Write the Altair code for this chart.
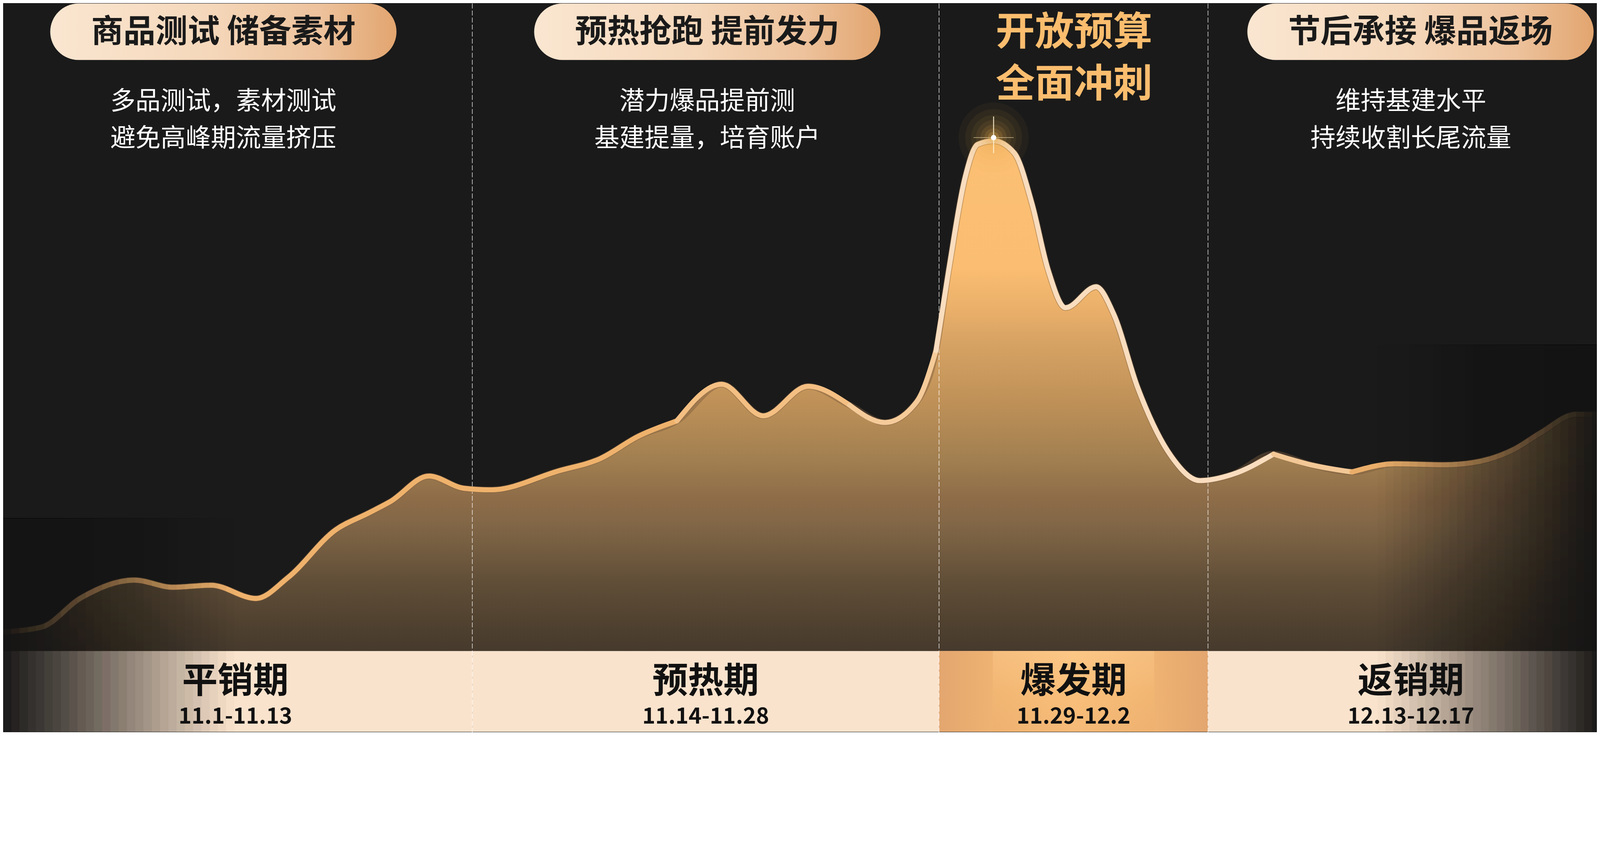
import altair as alt
import pandas as pd

# ---------------- data ----------------
timeline = [0, 2.6, 5.0, 8.4, 10.8, 13.2, 16.0, 18.0, 21.0, 23.0, 24.4, 26.8, 29.0, 30.7,
            34.9, 37.5, 39.9, 42.3, 45.1, 47.7, 50.5, 53.1, 55.3, 57.3, 58.5, 59.3, 60.3,
            61.1, 62.1, 63.4, 64.5, 65.5, 66.6, 68.5, 69.6, 71.1, 73.2, 75.0, 77.0, 79.6,
            81.8, 84.5, 87.2, 90.3, 92.0, 94.6, 96.3, 98.5, 100]
traffic = [3.7, 4.7, 10.3, 13.9, 12.5, 12.9, 10.3, 14.4, 23.8, 27.0, 29.3, 34.3, 31.9, 31.6,
           35.3, 37.7, 42.1, 45.1, 52.3, 46.1, 51.9, 48.2, 44.8, 48.9, 58.9, 74.8, 92.6,
           99.3, 100, 97.6, 87.7, 74.8, 67.3, 71.4, 66.1, 51.7, 38.2, 33.4, 34.6, 38.6,
           36.6, 35.1, 36.7, 36.5, 36.9, 39.5, 42.8, 46.4, 46.4]

phase_names = ["平销期", "预热期", "爆发期", "返销期"]
phase_dates = ["11.1-11.13", "11.14-11.28", "11.29-12.2", "12.13-12.17"]
phase_start = [0, 29.52, 58.69, 75.50]
phase_end = [29.52, 58.69, 75.50, 100]
pill_titles = ["商品测试 储备素材", "预热抢跑 提前发力", "", "节后承接 爆品返场"]
note_line1 = ["多品测试，素材测试", "潜力爆品提前测", "", "维持基建水平"]
note_line2 = ["避免高峰期流量挤压", "基建提量，培育账户", "", "持续收割长尾流量"]
burst_line1 = "开放预算"
burst_line2 = "全面冲刺"
highlight_phase = 2

# ---------------- layout / style ----------------
K = 4779 / 4096            # picture pixels per page pixel
W, H = 4080, 1866          # page pixels


def L(p):                  # picture-pixel length -> page pixels
    return p / K


def PY(y):                 # picture y -> chart y
    return y / K - 8


PX_PER_U = 47.79
PX_PER_V = 15.25
BASE_Y = 1945
X_MIN = 8 * K / PX_PER_U
X_MAX = (W + 8) * K / PX_PER_U
Y_MAX = (BASE_Y - 8 * K) / PX_PER_V
Y_MIN = (BASE_Y - (H + 8) * K) / PX_PER_V
XS = alt.Scale(domain=[X_MIN, X_MAX], nice=False, zero=False)
YS = alt.Scale(domain=[Y_MIN, Y_MAX], nice=False, zero=False)
FONT = "Noto Sans CJK SC"
BG = "#1a1a1a"
top_nudge = [-0.8, 0.1, 0.03, 1.03]
note_nudge = [-0.8, 0.1, 0.0, 0.43]
bottom_nudge = [-0.05, 0.0, 0.0, 0.43]
PILL_HALF = 10.82
seg_spec = [(0, 17, "#EFB26C"), (17, 21, "#F4BF82"), (21, 24, "#F6CB9A"), (24, 39, "#F9DDBE"),
            (39, 41, "#F3C896"), (41, 48, "#EAAE6A")]


def lin(stops, horizontal=False):
    return alt.LinearGradient(
        gradient="linear",
        stops=[alt.GradientStop(color=c, offset=o) for o, c in stops],
        x1=0, y1=0, x2=1 if horizontal else 0, y2=0 if horizontal else 1)


def X(f):
    return alt.X(f, type="quantitative", scale=XS, axis=None)


def Y(f):
    return alt.Y(f, type="quantitative", scale=YS, axis=None)


curve = pd.DataFrame({"t": timeline, "v": traffic})
curve["base"] = 0.0

seg_rows = []
for k, (i0, i1, _) in enumerate(seg_spec):
    for i in range(i0, i1 + 1):
        seg_rows.append({"t": timeline[i], "v": traffic[i], "seg": k})
segs = pd.DataFrame(seg_rows)

mid = [(a + b) / 2 for a, b in zip(phase_start, phase_end)]
phases = pd.DataFrame({
    "name": phase_names, "date": phase_dates,
    "start": [max(s, X_MIN) for s in phase_start], "stop": [min(e, X_MAX) for e in phase_end],
    "top_c": [m + n for m, n in zip(mid, top_nudge)],
    "note_c": [m + n for m, n in zip(mid, note_nudge)],
    "bot_c": [m + n for m, n in zip(mid, bottom_nudge)],
    "pill": pill_titles, "n1": note_line1, "n2": note_line2,
})
phases["p0"] = phases["top_c"] - PILL_HALF
phases["p1"] = phases["top_c"] + PILL_HALF
phases["b0"] = 0.0
phases["b1"] = Y_MIN
pills = phases[phases["pill"] != ""].reset_index(drop=True)
hl = phases.iloc[[highlight_phase]].reset_index(drop=True)
hl["c0"] = hl["start"] + (hl["stop"] - hl["start"]) * 0.2
hl["c1"] = hl["stop"] - (hl["stop"] - hl["start"]) * 0.2
bounds = pd.DataFrame({"b": phase_start[1:]})

area_fill = lin([(0, "#FCC074"), (0.25, "#FABD71"), (0.34, "#E8AE69"), (0.38, "#DAA565"),
                 (0.51, "#BF9158"), (0.63, "#A07E50"), (0.70, "#8E6C48"), (0.75, "#826747"),
                 (0.87, "#5F4D37"), (0.94, "#514230"), (1, "#463A2D")])

area = alt.Chart(curve).mark_area(interpolate="monotone", fill=area_fill, clip=True).encode(
    x=X("t"), y=Y("v"), y2=alt.Y2("base"))

band = alt.Chart(phases).mark_rect(color="#FAE3CD").encode(
    x=X("start"), x2=alt.X2("stop"), y=Y("b0"), y2=alt.Y2("b1"))

hl_base = alt.Chart(hl).mark_rect(fill=lin([(0, "#E3A66F"), (0.22, "#F0B472"), (0.5, "#FCC47F"),
                                            (0.78, "#F0B472"), (1, "#E3A66F")], horizontal=True)).encode(
    x=X("start"), x2=alt.X2("stop"), y=Y("b0"), y2=alt.Y2("b1"))
hl_top = alt.Chart(hl).mark_rect(fill=lin([(0, "#FDCB8E"), (0.5, "#F6BA75"), (1, "#EDAE6E")]),
                                 opacity=0.45).encode(
    x=X("c0"), x2=alt.X2("c1"), y=Y("b0"), y2=alt.Y2("b1"))

rules = alt.Chart(bounds).mark_rule(color="#ffffff", strokeWidth=L(2), strokeDash=[L(15), L(6)],
                                    opacity=0.75).encode(
    x=X("b"), y=alt.value(0), y2=alt.value(H))

line_shadow = alt.Chart(curve).mark_line(interpolate="monotone", color="#7a5c3e", strokeWidth=L(19),
                                          opacity=0.45, clip=True).encode(x=X("t"), y=Y("v"))
line = alt.Chart(segs).mark_line(interpolate="monotone", strokeWidth=L(15), strokeCap="round",
                                 strokeJoin="round", clip=True).encode(
    x=X("t"), y=Y("v"),
    color=alt.Color("seg:N", scale=alt.Scale(domain=list(range(len(seg_spec))),
                                             range=[c for _, _, c in seg_spec]), legend=None))

# edge fades: nested rects whose stacked opacity falls off linearly
N = 28
LW, RW = 14.65, 13.9
targets = [0.97 * (1 - (k + 0.5) / N) for k in range(N)]
alphas = []
for k in range(N):
    nxt = targets[k + 1] if k + 1 < N else 0.0
    alphas.append(1 - (1 - targets[k]) / (1 - nxt))
rows = []
for k in range(N):
    rows.append({"a": X_MIN, "b": X_MIN + (LW - X_MIN) * (k + 1) / N, "o": alphas[k], "y0": 26.0})
    rows.append({"a": 100 - RW * (k + 1) / N, "b": X_MAX, "o": alphas[k] * 0.98, "y0": 60.0})
fade = pd.DataFrame(rows)
fade["y1"] = Y_MIN
fades = alt.Chart(fade).mark_rect(color=BG).encode(
    x=X("a"), x2=alt.X2("b"), y=Y("y0"), y2=alt.Y2("y1"),
    opacity=alt.Opacity("o:Q", scale=None, legend=None))

peak = curve.loc[[curve["v"].idxmax()]].reset_index(drop=True)
glows = []
for s, op in [(210, 0.05), (170, 0.06), (135, 0.07), (105, 0.09), (78, 0.12), (55, 0.16), (34, 0.25)]:
    glows.append(alt.Chart(peak).mark_point(shape="circle", filled=True, size=L(s) ** 2, strokeWidth=0,
                                            color="#E8AA4A", opacity=op, yOffset=L(-10)).encode(
        x=X("t"), y=Y("v")))
spark_v = alt.Chart(peak).mark_tick(orient="vertical", size=L(110), thickness=L(3), color="#FFF1CF",
                                    opacity=0.85, yOffset=L(-18)).encode(x=X("t"), y=Y("v"))
spark_h = alt.Chart(peak).mark_tick(orient="horizontal", size=L(120), thickness=L(2), color="#FFE7B8",
                                    opacity=0.6, yOffset=L(-10)).encode(x=X("t"), y=Y("v"))
dot = alt.Chart(peak).mark_point(shape="circle", filled=True, size=L(16) ** 2, color="#ffffff",
                                 opacity=1, strokeWidth=0, yOffset=L(-10)).encode(x=X("t"), y=Y("v"))

pill_rect = alt.Chart(pills).mark_rect(cornerRadius=L(85), fill=lin(
    [(0, "#FAE6D1"), (0.45, "#F5D8BB"), (0.78, "#EDC29C"), (1, "#E2A56F")], horizontal=True)).encode(
    x=X("p0"), x2=alt.X2("p1"), y=alt.value(0), y2=alt.value(PY(178)))
pill_text = alt.Chart(pills).mark_text(font=FONT, fontSize=L(96), fontWeight="bold", color="#1a1a1a",
                                       baseline="middle", align="center").encode(
    x=X("top_c"), y=alt.value(PY(96)), text=alt.Text("pill:N"))
note1 = alt.Chart(pills).mark_text(font=FONT, fontSize=L(75), color="#ffffff", baseline="middle",
                                   align="center").encode(x=X("note_c"), y=alt.value(PY(303)),
                                                          text=alt.Text("n1:N"))
note2 = alt.Chart(pills).mark_text(font=FONT, fontSize=L(75), color="#ffffff", baseline="middle",
                                   align="center").encode(x=X("note_c"), y=alt.value(PY(414)),
                                                          text=alt.Text("n2:N"))
burst = hl.assign(l1=burst_line1, l2=burst_line2)
burst1 = alt.Chart(burst).mark_text(font=FONT, fontSize=L(117), fontWeight="bold", color="#FBBD6E",
                                    baseline="middle", align="center").encode(
    x=X("top_c"), y=alt.value(PY(98)), text=alt.Text("l1:N"))
burst2 = alt.Chart(burst).mark_text(font=FONT, fontSize=L(117), fontWeight="bold", color="#FBBD6E",
                                    baseline="middle", align="center").encode(
    x=X("top_c"), y=alt.value(PY(253)), text=alt.Text("l2:N"))

name_text = alt.Chart(phases).mark_text(font=FONT, fontSize=L(106), fontWeight="bold", color="#111111",
                                        baseline="middle", align="center").encode(
    x=X("bot_c"), y=alt.value(PY(2036)), text=alt.Text("name:N"))
date_text = alt.Chart(phases).mark_text(font=FONT, fontSize=L(66), fontWeight="bold", color="#111111",
                                        baseline="middle", align="center").encode(
    x=X("bot_c"), y=alt.value(PY(2140)), text=alt.Text("date:N"))

chart = alt.layer(
    area, band, hl_base, hl_top, rules, line_shadow, line, fades,
    *glows, spark_v, spark_h, dot, pill_rect, pill_text, note1, note2, burst1, burst2,
    name_text, date_text
).properties(
    width=W, height=H, padding=0, background=BG,
    autosize=alt.AutoSizeParams(type="fit", contains="padding")
).configure_view(strokeWidth=0)

chart.save("out.html", embed_options={"renderer": "svg", "actions": False})
